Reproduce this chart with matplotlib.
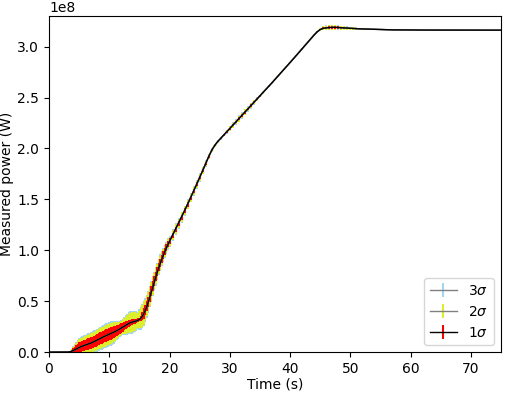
import numpy as np
import matplotlib
matplotlib.use('Agg')
import matplotlib.pyplot as plt

plt.rcParams['font.size'] = 10

# sampling grid (s)
time = np.concatenate([[0, 1, 2],
                       np.arange(3, 20.01, 0.25),
                       np.arange(20.5, 55.01, 0.5),
                       np.arange(56, 75.01, 1.0)])

# measured power, units of 1e8 W
power = [0.0, 0.0, 0.0,
         0.000, 0.001, 0.003, 0.008,
         0.015, 0.022, 0.030, 0.038,
         0.045, 0.052, 0.058, 0.064,
         0.069, 0.074, 0.079, 0.084,
         0.090, 0.097, 0.104, 0.111,
         0.119, 0.126, 0.134, 0.141,
         0.149, 0.156, 0.163, 0.170,
         0.177, 0.183, 0.189, 0.196,
         0.203, 0.211, 0.219, 0.228,
         0.237, 0.246, 0.256, 0.265,
         0.274, 0.282, 0.289, 0.294,
         0.298, 0.302, 0.306, 0.312,
         0.320, 0.334, 0.354, 0.380,
         0.412, 0.450, 0.495, 0.545,
         0.597, 0.648, 0.698, 0.746,
         0.792, 0.836, 0.878, 0.918,
         0.956, 0.992, 1.026, 1.058,
         1.088,
         1.148, 1.207, 1.266, 1.326, 1.389, 1.452, 1.517, 1.582, 1.648, 1.715,
         1.783, 1.852, 1.920, 1.982, 2.030, 2.068, 2.100, 2.132, 2.164, 2.196,
         2.228, 2.260, 2.292, 2.324, 2.356, 2.388, 2.420, 2.452, 2.484, 2.516,
         2.548, 2.580, 2.612, 2.645, 2.678, 2.711, 2.744, 2.777, 2.810, 2.843,
         2.877, 2.911, 2.945, 2.979, 3.013, 3.047, 3.081, 3.115, 3.145, 3.168,
         3.180, 3.185, 3.188, 3.190, 3.190, 3.188, 3.186, 3.184, 3.182, 3.180,
         3.178, 3.176, 3.175, 3.174, 3.172, 3.171, 3.170, 3.169, 3.168, 3.167,
         3.166, 3.165, 3.165, 3.164, 3.164, 3.163, 3.163, 3.163, 3.163, 3.163,
         3.162, 3.162, 3.162, 3.162, 3.162, 3.162, 3.162, 3.162, 3.162, 3.162]

sig1 = [0.0, 0.0, 0.0,
        0.000, 0.003, 0.006, 0.013,
        0.025, 0.031, 0.038, 0.044,
        0.050, 0.050, 0.050, 0.052,
        0.053, 0.055, 0.056, 0.056,
        0.056, 0.056, 0.056, 0.058,
        0.058, 0.059, 0.059, 0.060,
        0.060, 0.061, 0.062, 0.062,
        0.062, 0.062, 0.062, 0.060,
        0.058, 0.055, 0.052, 0.050,
        0.048, 0.044, 0.040, 0.038,
        0.035, 0.032, 0.030, 0.028,
        0.025, 0.022, 0.020, 0.019,
        0.019, 0.025, 0.038, 0.050,
        0.050, 0.050, 0.050, 0.050,
        0.050, 0.050, 0.045, 0.045,
        0.045, 0.040, 0.040, 0.040,
        0.040, 0.035, 0.035, 0.030,
        0.030,
        0.026, 0.026, 0.024, 0.024, 0.022, 0.022, 0.020, 0.020, 0.018, 0.018,
        0.016, 0.014, 0.012, 0.008, 0.006, 0.005, 0.005, 0.006, 0.008, 0.010,
        0.012, 0.012, 0.014, 0.014, 0.014, 0.012, 0.012, 0.010, 0.008, 0.006,
        0.005, 0.004, 0.004, 0.003, 0.003, 0.003, 0.003, 0.003, 0.003, 0.003,
        0.003, 0.003, 0.003, 0.003, 0.003, 0.003, 0.003, 0.004, 0.005, 0.007,
        0.010, 0.012, 0.012, 0.012, 0.012, 0.010, 0.010, 0.010, 0.008, 0.008,
        0.006, 0.006, 0.005, 0.005, 0.004, 0.004, 0.003, 0.003, 0.003, 0.003,
        0.0, 0.0, 0.0, 0.0, 0.0, 0.0, 0.0, 0.0, 0.0, 0.0,
        0.0, 0.0, 0.0, 0.0, 0.0, 0.0, 0.0, 0.0, 0.0, 0.0]

sig2 = [0.0, 0.0, 0.0,
        0.000, 0.005, 0.010, 0.021,
        0.040, 0.052, 0.063, 0.071,
        0.080, 0.083, 0.085, 0.087,
        0.090, 0.092, 0.093, 0.094,
        0.094, 0.095, 0.095, 0.097,
        0.098, 0.099, 0.100, 0.101,
        0.102, 0.103, 0.104, 0.104,
        0.104, 0.104, 0.101, 0.098,
        0.092, 0.083, 0.075, 0.069,
        0.067, 0.069, 0.076, 0.083,
        0.090, 0.094, 0.097, 0.097,
        0.094, 0.090, 0.083, 0.075,
        0.086, 0.098, 0.104, 0.109,
        0.100, 0.100, 0.095, 0.090,
        0.090, 0.085, 0.080, 0.080,
        0.075, 0.070, 0.070, 0.065,
        0.060, 0.055, 0.050, 0.050,
        0.045,
        0.050, 0.050, 0.046, 0.046, 0.042, 0.042, 0.040, 0.040, 0.036, 0.036,
        0.032, 0.028, 0.024, 0.016, 0.012, 0.010, 0.010, 0.012, 0.016, 0.020,
        0.024, 0.024, 0.028, 0.028, 0.028, 0.024, 0.024, 0.020, 0.016, 0.012,
        0.010, 0.008, 0.008, 0.006, 0.006, 0.006, 0.006, 0.006, 0.006, 0.006,
        0.006, 0.006, 0.006, 0.006, 0.006, 0.006, 0.006, 0.008, 0.010, 0.013,
        0.018, 0.022, 0.022, 0.022, 0.022, 0.018, 0.018, 0.018, 0.014, 0.014,
        0.011, 0.011, 0.009, 0.009, 0.007, 0.007, 0.005, 0.005, 0.005, 0.005,
        0.0, 0.0, 0.0, 0.0, 0.0, 0.0, 0.0, 0.0, 0.0, 0.0,
        0.0, 0.0, 0.0, 0.0, 0.0, 0.0, 0.0, 0.0, 0.0, 0.0]

sig3 = [0.0, 0.0, 0.0,
        0.000, 0.006, 0.012, 0.024,
        0.046, 0.060, 0.072, 0.082,
        0.092, 0.095, 0.098, 0.100,
        0.103, 0.105, 0.107, 0.108,
        0.108, 0.109, 0.109, 0.111,
        0.113, 0.114, 0.115, 0.116,
        0.117, 0.118, 0.120, 0.120,
        0.120, 0.120, 0.116, 0.113,
        0.106, 0.095, 0.086, 0.079,
        0.077, 0.079, 0.087, 0.095,
        0.104, 0.108, 0.112, 0.112,
        0.108, 0.104, 0.095, 0.086,
        0.099, 0.113, 0.120, 0.125,
        0.115, 0.115, 0.109, 0.104,
        0.104, 0.098, 0.092, 0.092,
        0.086, 0.081, 0.081, 0.075,
        0.069, 0.063, 0.058, 0.058,
        0.052,
        0.058, 0.058, 0.054, 0.054, 0.049, 0.049, 0.046, 0.046, 0.042, 0.042,
        0.037, 0.032, 0.028, 0.019, 0.014, 0.012, 0.012, 0.014, 0.019, 0.023,
        0.028, 0.028, 0.032, 0.032, 0.032, 0.028, 0.028, 0.023, 0.019, 0.014,
        0.012, 0.009, 0.009, 0.007, 0.007, 0.007, 0.007, 0.007, 0.007, 0.007,
        0.007, 0.007, 0.007, 0.007, 0.007, 0.007, 0.007, 0.009, 0.012, 0.015,
        0.021, 0.025, 0.025, 0.025, 0.025, 0.021, 0.021, 0.021, 0.017, 0.017,
        0.013, 0.013, 0.011, 0.011, 0.008, 0.008, 0.006, 0.006, 0.006, 0.006,
        0.0, 0.0, 0.0, 0.0, 0.0, 0.0, 0.0, 0.0, 0.0, 0.0,
        0.0, 0.0, 0.0, 0.0, 0.0, 0.0, 0.0, 0.0, 0.0, 0.0]

P = np.array(power) * 1e8
e1 = np.array(sig1) * 1e8
e2 = np.array(sig2) * 1e8
e3 = np.array(sig3) * 1e8

fig, ax = plt.subplots(figsize=(5.05, 3.93), dpi=100)
fig.subplots_adjust(left=0.097, right=0.992, bottom=0.104, top=0.959)

ax.errorbar(time, P, yerr=e3, color='gray', lw=1, ecolor='#a3d5ee',
            elinewidth=1.5, label=r'3$\sigma$')
ax.errorbar(time, P, yerr=e2, color='gray', lw=1, ecolor='#dcee2c',
            elinewidth=1.5, label=r'2$\sigma$')
ax.errorbar(time, P, yerr=e1, color='k', lw=1, ecolor='red',
            elinewidth=1.5, label=r'1$\sigma$')

ax.set_xlim(0, 75)
ax.set_ylim(0, 3.3e8)
ax.set_xlabel('Time (s)', labelpad=1.5)
ax.set_ylabel('Measured power (W)', labelpad=2)
ax.legend(loc='lower right')

plt.savefig('out.png')
